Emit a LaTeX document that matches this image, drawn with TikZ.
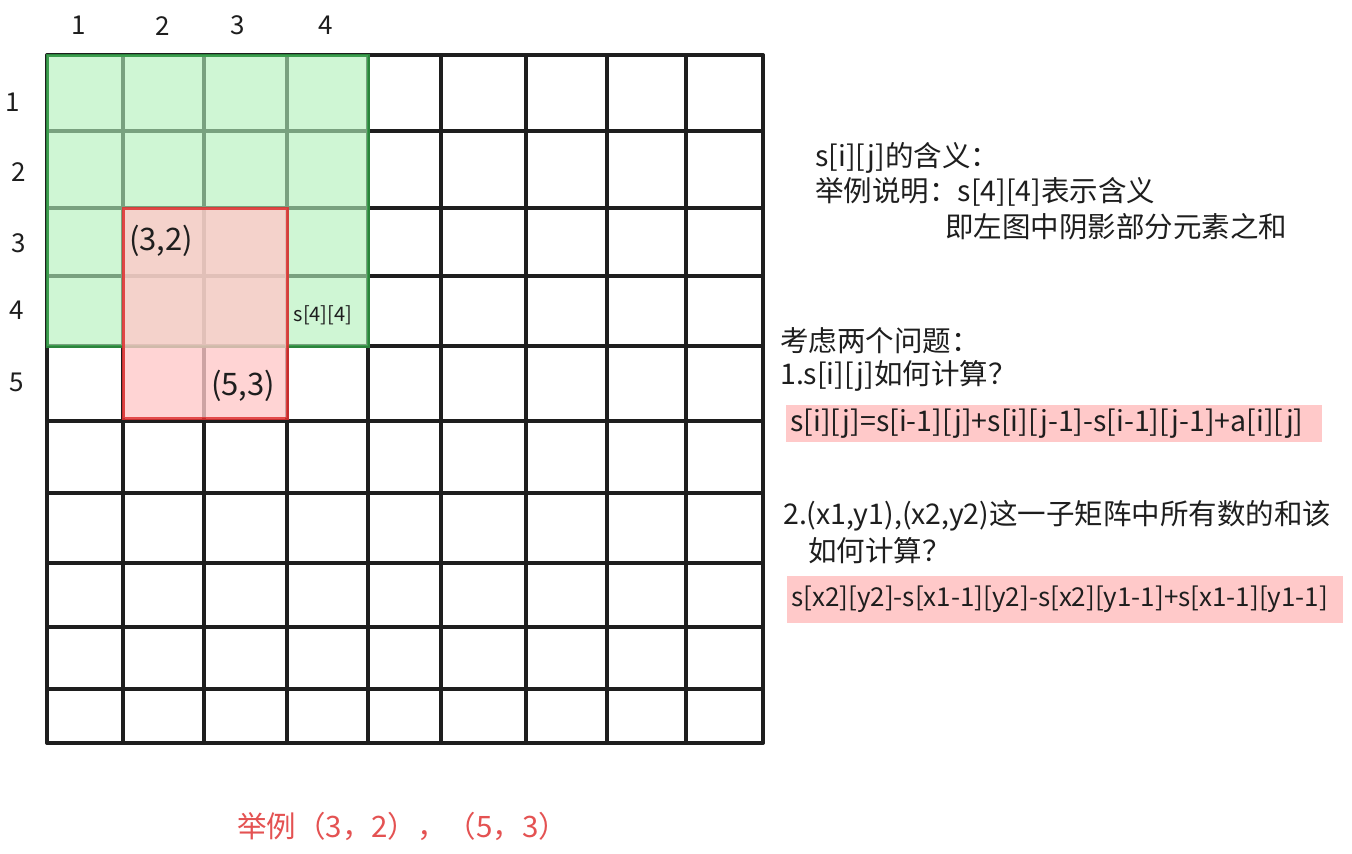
\documentclass[tikz,border=0pt]{standalone}
\usepackage{fontspec}
\setmainfont{Noto Sans CJK SC}
\definecolor{ink}{HTML}{1E1E1E}
\definecolor{greenbg}{HTML}{B2F2BB}
\definecolor{greenline}{HTML}{2F9E44}
\definecolor{redbg}{HTML}{FFC9C9}
\definecolor{redline}{HTML}{E03131}
\definecolor{redtext}{RGB}{228,82,82}
\begin{document}
\begin{tikzpicture}[x=1pt,y=-1pt,
  gridline/.style={line width=3.5pt,draw=ink,line cap=round},
  lbl/.style={font=\fontsize{26}{30}\selectfont,text=ink,inner sep=0pt},
  txt/.style={font=\fontsize{28.5}{32}\selectfont,text=ink,inner sep=0pt,anchor=west},
  formula/.style={fill=redbg,text=ink,inner xsep=4pt,inner ysep=0pt,anchor=north west}]
\useasboundingbox (0,0) rectangle (1352,854);
\fill[white] (0,0) rectangle (1352,854);
% grid
\foreach \x in {47,123,204,287,368,441,526,607,686,763}
  \draw[gridline] (\x,55) -- (\x,743);
\foreach \y in {55,131,208,276,346,421,493,563,627,689,743}
  \draw[gridline] (47,\y) -- (763,\y);
% green region
\fill[greenbg,opacity=0.62] (47,55) rectangle (368,346);
\draw[greenline,opacity=0.8,line width=3pt] (47,55) rectangle (368,346);
% red region
\fill[redbg,opacity=0.78] (123,208) rectangle (287,418);
\draw[redline,opacity=0.85,line width=3pt] (123,208) rectangle (287,418);
% column labels
\node[lbl] (c1) at (79,25) {1};
\node[lbl] (c2) at (163,26) {2};
\node[lbl] (c3) at (238,25) {3};
\node[lbl] (c4) at (326,25) {4};
% row labels
\node[lbl] (r1) at (13,102) {1};
\node[lbl] (r2) at (19,172) {2};
\node[lbl] (r3) at (19,243) {3};
\node[lbl] (r4) at (17,310) {4};
\node[lbl] (r5) at (17,382) {5};
% cell labels
\node[lbl,font=\fontsize{31}{34}\selectfont] (p32) at (161,241) {(3,2)};
\node[lbl,font=\fontsize{31}{34}\selectfont] (p53) at (243,386) {(5,3)};
\node[lbl,font=\fontsize{20}{22}\selectfont] (s44) at (323,315) {s[4][4]};
% right texts
\node[txt] (t1) at (815,158) {s[i][j]的含义：};
\node[txt] (t2) at (815,192) {举例说明：s[4][4]表示含义};
\node[txt] (t3) at (945,227) {即左图中阴影部分元素之和};
\node[txt] (t4) at (780,341) {考虑两个问题：};
\node[txt] (t5) at (780,376) {1.s[i][j]如何计算？};
\node[formula,font=\fontsize{28.5}{30}\selectfont,minimum height=37pt] (f1) at (786,405)
  {\makebox[528pt][l]{s[i][j]=s[i-1][j]+s[i][j-1]-s[i-1][j-1]+a[i][j]}};
\node[txt] (t6) at (783,516) {2.(x1,y1),(x2,y2)这一子矩阵中所有数的和该};
\node[txt] (t7) at (808,551) {如何计算？};
\node[formula,font=\fontsize{26}{28}\selectfont,minimum height=47pt] (f2) at (787,576)
  {\makebox[548pt][l]{s[x2][y2]-s[x1-1][y2]-s[x2][y1-1]+s[x1-1][y1-1]}};
% bottom
\node[txt,text=redtext,font=\fontsize{29.5}{32}\selectfont] (ex) at (237,826) {举例（3，2），（5，3）};
\end{tikzpicture}
\end{document}
